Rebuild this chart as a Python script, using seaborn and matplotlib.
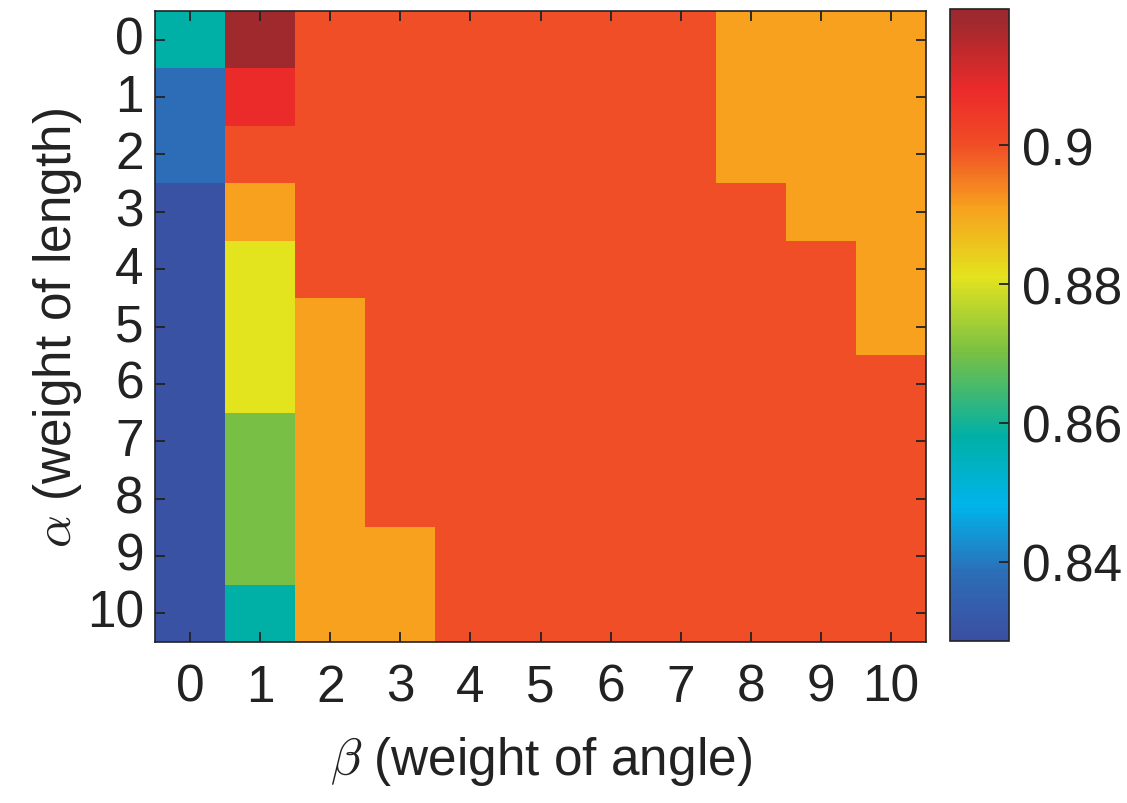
import numpy as np
import pandas as pd
import matplotlib
matplotlib.use("Agg")
import matplotlib.pyplot as plt
from matplotlib.colors import LinearSegmentedColormap
import seaborn as sns

# Accuracy grid: rows = alpha (weight of length), columns = beta (weight of angle)
alpha_values = list(range(11))
beta_values = list(range(11))

row_a0 = [0.858, 0.918, 0.900, 0.900, 0.900, 0.900, 0.900, 0.900, 0.891, 0.891, 0.891]
row_a1 = [0.838, 0.908, 0.900, 0.900, 0.900, 0.900, 0.900, 0.900, 0.891, 0.891, 0.891]
row_a2 = [0.838, 0.900, 0.900, 0.900, 0.900, 0.900, 0.900, 0.900, 0.891, 0.891, 0.891]
row_a3 = [0.830, 0.891, 0.900, 0.900, 0.900, 0.900, 0.900, 0.900, 0.900, 0.891, 0.891]
row_a4 = [0.830, 0.881, 0.900, 0.900, 0.900, 0.900, 0.900, 0.900, 0.900, 0.900, 0.891]
row_a5 = [0.830, 0.881, 0.891, 0.900, 0.900, 0.900, 0.900, 0.900, 0.900, 0.900, 0.891]
row_a6 = [0.830, 0.881, 0.891, 0.900, 0.900, 0.900, 0.900, 0.900, 0.900, 0.900, 0.900]
row_a7 = [0.830, 0.870, 0.891, 0.900, 0.900, 0.900, 0.900, 0.900, 0.900, 0.900, 0.900]
row_a8 = [0.830, 0.870, 0.891, 0.900, 0.900, 0.900, 0.900, 0.900, 0.900, 0.900, 0.900]
row_a9 = [0.830, 0.870, 0.891, 0.891, 0.900, 0.900, 0.900, 0.900, 0.900, 0.900, 0.900]
row_a10 = [0.830, 0.858, 0.891, 0.891, 0.900, 0.900, 0.900, 0.900, 0.900, 0.900, 0.900]

grid = pd.DataFrame(
    [row_a0, row_a1, row_a2, row_a3, row_a4, row_a5,
     row_a6, row_a7, row_a8, row_a9, row_a10],
    index=alpha_values, columns=beta_values,
)

vmin, vmax = 0.8286, 0.9196
cbar_ticks = [0.84, 0.86, 0.88, 0.90]
cbar_ticklabels = ["0.84", "0.86", "0.88", "0.9"]

# Print-style jet colormap, anchors given in data units
anchor_values = [0.8286, 0.830, 0.838, 0.848, 0.858, 0.870, 0.881,
                 0.891, 0.900, 0.908, 0.918, 0.9196]
anchor_colors = ["#3a4fa0", "#3a53a4", "#2d6cb6", "#00b4eb", "#00b0a6",
                 "#78c045", "#e3e31e", "#f7a11e", "#f04e26", "#ec2a2a",
                 "#a0292e", "#9c282d"]
jet_like = LinearSegmentedColormap.from_list(
    "jet_print",
    [((v - vmin) / (vmax - vmin), c) for v, c in zip(anchor_values, anchor_colors)],
)

sns.set_style("white")
plt.rcParams["font.family"] = ["Liberation Sans", "DejaVu Sans"]
plt.rcParams["mathtext.fontset"] = "cm"
plt.rcParams["axes.axisbelow"] = False

fs = 37
ink = "#222222"

fig = plt.figure(figsize=(11.27, 8.04), dpi=100)
ax = fig.add_axes([0.1375, 0.2002, 0.6842, 0.7848])
cax = fig.add_axes([0.843, 0.2015, 0.0523, 0.7861])

sns.heatmap(
    grid, ax=ax, cbar_ax=cax, cmap=jet_like, vmin=vmin, vmax=vmax,
    cbar=True, square=False, linewidths=0,
)
ax.set_axisbelow(False)
cax.set_axisbelow(False)

# Frame with inward ticks on every side
for s in ax.spines.values():
    s.set_visible(True)
    s.set_color(ink)
    s.set_linewidth(1.2)
ax.tick_params(axis="both", which="major", direction="in", length=7, width=1.3,
               color=ink, labelsize=fs, bottom=True, left=True, top=True,
               right=True, labelcolor=ink)
ax.set_xticks(np.arange(len(beta_values)) + 0.5)
ax.set_xticklabels([str(b) for b in beta_values], rotation=0)
ax.set_yticks(np.arange(len(alpha_values)) + 0.5)
ax.set_yticklabels([str(a) for a in alpha_values], rotation=0)
ax.tick_params(axis="x", pad=15)
ax.tick_params(axis="y", pad=8)

ax.set_xlabel(r"$\beta$ (weight of angle)", fontsize=fs, color=ink, labelpad=16)
ax.set_ylabel(r"$\alpha$ (weight of length)", fontsize=fs, color=ink, labelpad=2)

cb = ax.collections[0].colorbar
cb.outline.set_linewidth(1.2)
cb.outline.set_edgecolor(ink)
cb.set_ticks(cbar_ticks)
cb.set_ticklabels(cbar_ticklabels)
cax.tick_params(direction="in", length=7, width=1.3, color=ink, right=True,
                labelsize=fs, labelcolor=ink, pad=9)

fig.savefig("out.png", dpi=100)
